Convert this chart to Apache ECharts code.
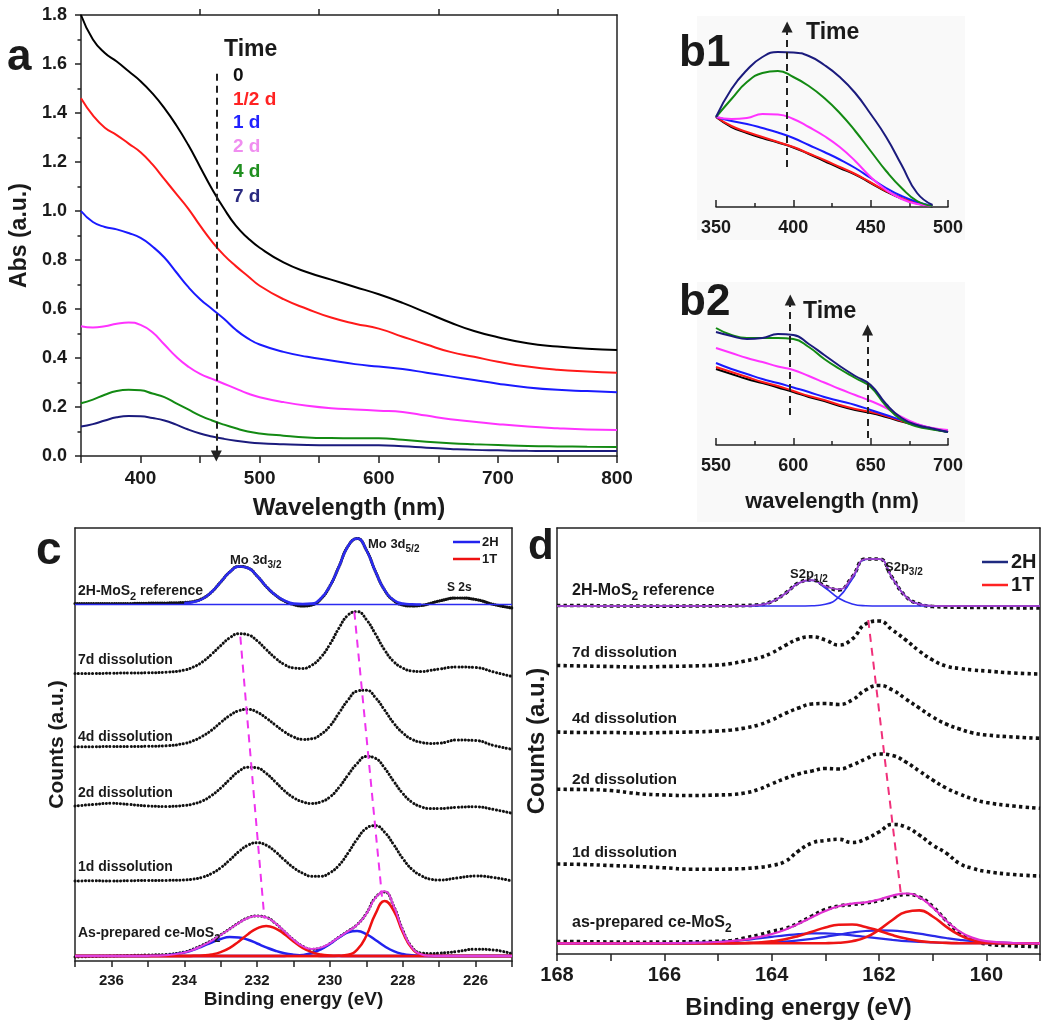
<!DOCTYPE html>
<html><head><meta charset="utf-8"><title>MoS2 dissolution</title>
<script src="https://cdn.jsdelivr.net/npm/echarts@6.0.0/dist/echarts.min.js"></script>
<style>html,body{margin:0;padding:0;background:#fff;}#chart{width:1050px;height:1022px;}</style>
</head><body><div id="chart"></div>
<script>
// ================= DATA =================
// ---- Panel a : UV-vis absorbance ----
const WL_A = [350,360,370,380,390,400,410,420,430,440,450,460,470,480,490,500,520,540,560,580,600,620,640,660,680,700,725,750,775,800];
const A_0    = [1.80,1.70,1.645,1.61,1.57,1.53,1.48,1.42,1.35,1.27,1.18,1.09,1.01,0.94,0.89,0.85,0.79,0.75,0.72,0.69,0.66,0.625,0.585,0.545,0.51,0.485,0.46,0.447,0.438,0.433];
const A_HALF = [1.46,1.39,1.34,1.31,1.275,1.24,1.19,1.13,1.07,1.01,0.94,0.875,0.82,0.775,0.735,0.695,0.64,0.60,0.565,0.54,0.52,0.487,0.455,0.425,0.405,0.385,0.365,0.352,0.345,0.34];
const A_1D   = [1.00,0.955,0.935,0.925,0.91,0.89,0.855,0.81,0.75,0.69,0.64,0.60,0.56,0.515,0.48,0.455,0.425,0.405,0.39,0.375,0.365,0.355,0.34,0.325,0.31,0.295,0.28,0.27,0.265,0.26];
const A_2D   = [0.53,0.525,0.53,0.54,0.545,0.535,0.505,0.455,0.405,0.365,0.335,0.315,0.295,0.275,0.255,0.24,0.22,0.205,0.195,0.19,0.185,0.18,0.165,0.15,0.14,0.13,0.12,0.113,0.108,0.106];
const A_4D   = [0.215,0.23,0.25,0.265,0.27,0.268,0.255,0.24,0.215,0.19,0.165,0.145,0.128,0.113,0.10,0.092,0.083,0.076,0.073,0.072,0.072,0.066,0.058,0.052,0.048,0.045,0.041,0.039,0.038,0.037];
const A_7D   = [0.12,0.13,0.145,0.158,0.163,0.162,0.155,0.145,0.128,0.108,0.092,0.08,0.07,0.062,0.056,0.052,0.048,0.045,0.044,0.044,0.044,0.04,0.034,0.029,0.025,0.023,0.021,0.02,0.02,0.02];
const A_ARROW_X = [463.6, 463.6];
const A_ARROW_Y = [1.56, 0.0];
const TIME_LABELS = ['0','1/2 d','1 d','2 d','4 d','7 d'];

// ---- Panel b1 : 350-500 nm (difference region) ----
const WL_B1 = [350,360,370,380,390,400,410,420,430,440,450,460,470,480,490];
const B1_0    = [0.90,0.80,0.74,0.69,0.645,0.595,0.53,0.46,0.39,0.325,0.24,0.155,0.085,0.035,0.005];
const B1_HALF = [0.90,0.81,0.75,0.70,0.65,0.60,0.535,0.47,0.40,0.33,0.245,0.16,0.09,0.04,0.01];
const B1_1D   = [0.90,0.86,0.83,0.79,0.745,0.69,0.62,0.55,0.475,0.39,0.29,0.19,0.11,0.05,0.01];
const B1_2D   = [0.90,0.88,0.89,0.93,0.925,0.88,0.80,0.71,0.60,0.46,0.30,0.17,0.08,0.03,0.01];
const B1_4D   = [0.90,1.08,1.25,1.34,1.36,1.30,1.21,1.09,0.94,0.76,0.56,0.36,0.19,0.06,0.01];
const B1_7D   = [0.90,1.18,1.37,1.50,1.55,1.545,1.51,1.42,1.30,1.14,0.93,0.70,0.42,0.14,0.02];
const B1_ARROW_X = [396, 396];
const B1_ARROW_Y = [0.40, 1.80];

// ---- Panel b2 : 550-700 nm ----
const WL_B2 = [550,560,570,580,590,600,610,620,630,640,650,660,670,680,690,700];
const B2_0    = [0.76,0.71,0.66,0.62,0.575,0.53,0.48,0.44,0.39,0.35,0.32,0.28,0.235,0.195,0.16,0.13];
const B2_HALF = [0.78,0.73,0.68,0.63,0.59,0.54,0.49,0.45,0.40,0.36,0.33,0.29,0.24,0.20,0.165,0.14];
const B2_1D   = [0.82,0.76,0.71,0.66,0.62,0.575,0.53,0.48,0.44,0.40,0.35,0.30,0.25,0.205,0.165,0.13];
const B2_2D   = [0.97,0.92,0.87,0.83,0.785,0.75,0.69,0.625,0.56,0.50,0.44,0.37,0.28,0.21,0.17,0.15];
const B2_4D   = [1.17,1.10,1.07,1.07,1.07,1.06,0.98,0.86,0.76,0.67,0.58,0.39,0.25,0.185,0.155,0.13];
const B2_7D   = [1.13,1.09,1.06,1.07,1.11,1.10,1.01,0.90,0.79,0.69,0.60,0.41,0.27,0.20,0.165,0.13];
const B2_ARROW1_X = [598, 598], B2_ARROW1_Y = [0.30, 1.45];
const B2_ARROW2_X = [648, 648], B2_ARROW2_Y = [0.07, 1.15];

// ---- Panel c : Mo 3d XPS (stacked, arbitrary offsets) ----
const E_C = [237,236.5,236,235.5,235,234.5,234,233.75,233.5,233.25,233,232.75,232.5,232.25,232,231.75,231.5,231.25,231,230.75,230.5,230.25,230,229.75,229.5,229.25,229,228.75,228.5,228.25,228,227.75,227.5,227.25,227,226.5,226,225.5,225];
const C_REF = [3.575,3.575,3.575,3.575,3.578,3.58,3.585,3.595,3.625,3.69,3.79,3.89,3.945,3.93,3.85,3.745,3.66,3.60,3.565,3.55,3.56,3.62,3.75,3.945,4.15,4.225,4.11,3.895,3.71,3.605,3.56,3.55,3.555,3.575,3.60,3.63,3.615,3.565,3.53];
const E_C_FIT = [234,233.75,233.5,233.25,233,232.75,232.5,232.25,232,231.75,231.5,231.25,231,230.75,230.5,230.25,230,229.75,229.5,229.25,229,228.75,228.5,228.25,228,227.75,227.5];
const C_REF_FIT = [3.58,3.59,3.62,3.69,3.79,3.89,3.945,3.93,3.85,3.745,3.66,3.605,3.575,3.57,3.575,3.625,3.75,3.945,4.15,4.225,4.11,3.895,3.71,3.61,3.575,3.567,3.565];
const E_C_BASE = [237, 225];
const C_REF_BASE = [3.565, 3.565];
const C_7D = [2.875,2.875,2.878,2.88,2.882,2.888,2.909,2.94,2.991,3.067,3.154,3.232,3.273,3.262,3.203,3.115,3.03,2.965,2.931,2.926,2.957,3.037,3.167,3.33,3.46,3.494,3.415,3.27,3.111,2.995,2.93,2.90,2.895,2.905,2.92,2.94,2.935,2.89,2.845];
const C_4D = [2.143,2.143,2.145,2.145,2.147,2.152,2.175,2.203,2.248,2.308,2.385,2.455,2.503,2.516,2.489,2.43,2.36,2.292,2.241,2.216,2.222,2.266,2.35,2.48,2.611,2.699,2.708,2.634,2.51,2.38,2.281,2.217,2.187,2.176,2.178,2.21,2.205,2.155,2.117];
const C_2D = [1.55,1.565,1.577,1.565,1.55,1.546,1.555,1.571,1.601,1.655,1.729,1.817,1.897,1.938,1.931,1.876,1.792,1.703,1.634,1.592,1.575,1.591,1.64,1.736,1.861,1.976,2.045,2.027,1.93,1.798,1.676,1.589,1.543,1.525,1.525,1.537,1.542,1.515,1.477];
const C_1D = [0.80,0.802,0.80,0.803,0.805,0.806,0.81,0.819,0.838,0.875,0.932,1.01,1.094,1.158,1.183,1.158,1.094,1.01,0.934,0.879,0.848,0.848,0.882,0.958,1.081,1.22,1.327,1.353,1.289,1.164,1.026,0.918,0.855,0.819,0.81,0.83,0.85,0.835,0.80];
const C_ASP = [0.04,0.045,0.05,0.055,0.06,0.066,0.09,0.12,0.16,0.205,0.262,0.322,0.383,0.432,0.45,0.437,0.378,0.295,0.212,0.148,0.118,0.13,0.175,0.24,0.30,0.365,0.475,0.635,0.69,0.55,0.31,0.14,0.08,0.075,0.078,0.095,0.118,0.11,0.072];
const C_ENV = [0.05,0.05,0.05,0.05,0.051,0.058,0.084,0.113,0.153,0.201,0.259,0.32,0.381,0.43,0.451,0.436,0.379,0.297,0.213,0.148,0.121,0.134,0.177,0.239,0.298,0.362,0.471,0.631,0.697,0.551,0.307,0.135,0.068,0.052,0.05,0.05,0.05,0.05,0.05];
const C_2H_A = [0.05,0.05,0.05,0.05,0.051,0.058,0.084,0.111,0.147,0.185,0.22,0.239,0.235,0.212,0.175,0.136,0.103,0.078,0.063,0.056,0.052,0.051,0.05,0.05,0.05,0.05,0.05,0.05,0.05,0.05,0.05,0.05,0.05,0.05,0.05,0.05,0.05,0.05,0.05];
const C_1T_A = [0.05,0.05,0.05,0.05,0.05,0.05,0.05,0.052,0.056,0.066,0.089,0.131,0.196,0.268,0.326,0.35,0.326,0.268,0.196,0.131,0.089,0.066,0.056,0.052,0.05,0.05,0.05,0.05,0.05,0.05,0.05,0.05,0.05,0.05,0.05,0.05,0.05,0.05,0.05];
const C_2H_B = [0.05,0.05,0.05,0.05,0.05,0.05,0.05,0.05,0.05,0.05,0.05,0.05,0.05,0.05,0.05,0.05,0.05,0.051,0.054,0.061,0.08,0.117,0.171,0.235,0.286,0.299,0.269,0.21,0.148,0.098,0.07,0.057,0.052,0.05,0.05,0.05,0.05,0.05,0.05];
const C_1T_B = [0.05,0.05,0.05,0.05,0.05,0.05,0.05,0.05,0.05,0.05,0.05,0.05,0.05,0.05,0.05,0.05,0.05,0.05,0.05,0.05,0.05,0.05,0.05,0.052,0.062,0.113,0.252,0.471,0.599,0.503,0.287,0.128,0.066,0.052,0.05,0.05,0.05,0.05,0.05];
const C_ASP_BASE = [0.05, 0.05];
const C_SHIFT1_E = [232.46, 231.8], C_SHIFT1_Y = [3.243, 0.427];
const C_SHIFT2_E = [229.33, 228.57], C_SHIFT2_Y = [3.493, 0.643];

// ---- Panel d : S 2p XPS ----
const E_D = [168,167.5,167,166.5,166,165.5,165,164.75,164.5,164.25,164,163.75,163.5,163.25,163,162.75,162.5,162.25,162,161.75,161.5,161.25,161,160.75,160.5,160.25,160,159.5,159];
const D_REF = [3.485,3.485,3.48,3.48,3.478,3.48,3.482,3.483,3.485,3.492,3.525,3.605,3.71,3.74,3.68,3.64,3.77,3.95,3.95,3.76,3.575,3.50,3.475,3.47,3.468,3.465,3.465,3.462,3.46];
const D_REF_2H_A = [3.48,3.48,3.48,3.48,3.48,3.48,3.48,3.48,3.481,3.489,3.522,3.603,3.707,3.736,3.66,3.558,3.501,3.483,3.48,3.48,3.48,3.48,3.48,3.48,3.48,3.48,3.48,3.48,3.48];
const D_REF_2H_B = [3.48,3.48,3.48,3.48,3.48,3.48,3.48,3.48,3.48,3.48,3.48,3.48,3.48,3.482,3.497,3.569,3.748,3.945,3.95,3.758,3.575,3.499,3.482,3.48,3.48,3.48,3.48,3.48,3.48];
const D_REF_ENV = [3.48,3.48,3.48,3.48,3.48,3.48,3.48,3.48,3.481,3.489,3.522,3.603,3.707,3.738,3.677,3.647,3.769,3.948,3.95,3.758,3.575,3.499,3.482,3.48,3.48,3.48,3.48,3.48,3.48];
const D_7D = [2.885,2.88,2.875,2.87,2.875,2.88,2.89,2.905,2.93,2.96,3.01,3.085,3.15,3.172,3.14,3.09,3.15,3.30,3.33,3.24,3.14,3.03,2.94,2.88,2.855,2.84,2.83,2.81,2.80];
const D_4D = [2.22,2.215,2.215,2.21,2.215,2.22,2.23,2.24,2.26,2.29,2.34,2.405,2.46,2.50,2.505,2.495,2.54,2.64,2.685,2.64,2.55,2.46,2.37,2.30,2.25,2.21,2.19,2.17,2.157];
const D_2D = [1.647,1.645,1.635,1.605,1.59,1.585,1.59,1.595,1.61,1.645,1.70,1.755,1.80,1.83,1.855,1.85,1.89,1.95,2.0,1.985,1.92,1.83,1.74,1.66,1.60,1.55,1.515,1.48,1.457];
const D_1D = [0.90,0.895,0.885,0.875,0.862,0.848,0.848,0.85,0.855,0.865,0.885,0.925,1.03,1.11,1.135,1.147,1.115,1.15,1.22,1.295,1.27,1.19,1.09,1.01,0.905,0.855,0.825,0.795,0.78];
const D_ASP = [0.125,0.123,0.12,0.118,0.12,0.122,0.127,0.135,0.16,0.19,0.225,0.255,0.31,0.38,0.445,0.48,0.495,0.51,0.535,0.57,0.595,0.57,0.475,0.335,0.215,0.14,0.10,0.082,0.073];
const D_ENV = [0.107,0.107,0.107,0.107,0.108,0.111,0.12,0.13,0.145,0.169,0.199,0.243,0.302,0.367,0.43,0.477,0.504,0.517,0.545,0.584,0.605,0.568,0.467,0.335,0.227,0.161,0.129,0.11,0.107];
const D_1T_A = [0.107,0.107,0.107,0.107,0.107,0.107,0.107,0.107,0.107,0.107,0.107,0.107,0.107,0.107,0.108,0.113,0.128,0.166,0.242,0.34,0.421,0.436,0.375,0.274,0.189,0.139,0.116,0.107,0.107];
const D_1T_B = [0.107,0.107,0.107,0.107,0.107,0.107,0.107,0.108,0.11,0.115,0.126,0.147,0.181,0.223,0.265,0.292,0.295,0.271,0.232,0.189,0.154,0.129,0.117,0.111,0.108,0.107,0.107,0.107,0.107];
const D_2H_A = [0.107,0.107,0.107,0.107,0.107,0.107,0.107,0.107,0.109,0.112,0.116,0.124,0.136,0.152,0.172,0.194,0.215,0.23,0.236,0.234,0.222,0.203,0.181,0.16,0.142,0.128,0.12,0.11,0.107];
const D_2H_B = [0.107,0.107,0.107,0.107,0.108,0.111,0.12,0.129,0.14,0.156,0.171,0.186,0.199,0.206,0.206,0.199,0.187,0.171,0.156,0.142,0.129,0.121,0.115,0.111,0.109,0.108,0.107,0.107,0.107];
const D_SHIFT_E = [162.2, 161.59], D_SHIFT_Y = [3.34, 0.59];

// ================= STYLE / BUILD =================
const FF = '"Liberation Sans", Arial, Helvetica, sans-serif';
const LINE_COLORS = ['#000000','#ff1a1a','#1a1aff','#ff33ff','#138a13','#1b1b7d'];
const LEGEND_COLORS = ['#111111','#ff2222','#2222ff','#f08ef0','#1f8f1f','#2a2a80'];
const zip = (xs, ys) => xs.map((x, i) => [x, ys[i]]);

const series = [];
function addLine(ax, xs, ys, color, width, extra) {
  const s = {type:'line', xAxisIndex:ax, yAxisIndex:ax, data:zip(xs, ys), symbol:'none', showSymbol:false,
    smooth:true, silent:true, animation:false, lineStyle:{color:color, width:width}, z:2};
  series.push(Object.assign(s, extra || {}));
  return s;
}
function dashML(pairs, color, width, dash, symbols) {
  return {silent:true, animation:false, symbol:symbols || ['none','none'], symbolSize:11, label:{show:false},
    emphasis:{disabled:true}, lineStyle:{color:color, width:width, type:dash},
    data: pairs.map(p => [{coord:[p[0][0], p[1][0]]}, {coord:[p[0][1], p[1][1]]}])};
}
const dotC = {color:'#111', width:3, type:[0.1, 3.4], cap:'round'};
const dotCref = {color:'#111', width:3.2, type:[0.1, 2.2], cap:'round'};
const dotD = {color:'#111', width:3.6, type:[3.4, 3.2], cap:'butt'};

// panel a
[A_0, A_HALF, A_1D, A_2D, A_4D, A_7D].forEach((ys, i) => {
  const s = addLine(0, WL_A, ys, LINE_COLORS[i], 2);
  if (i === 0) s.markLine = dashML([[A_ARROW_X, A_ARROW_Y]], '#222', 2, [7,5], ['none','triangle']);
});
// panel b1
[B1_0, B1_HALF, B1_1D, B1_2D, B1_4D, B1_7D].forEach((ys, i) => {
  const s = addLine(2, WL_B1, ys, LINE_COLORS[i], 2);
  if (i === 0) s.markLine = dashML([[B1_ARROW_X, B1_ARROW_Y]], '#222', 2, [7,5], ['none','triangle']);
});
// panel b2
[B2_0, B2_HALF, B2_1D, B2_2D, B2_4D, B2_7D].forEach((ys, i) => {
  const s = addLine(3, WL_B2, ys, LINE_COLORS[i], 2);
  if (i === 0) s.markLine = dashML([[B2_ARROW1_X, B2_ARROW1_Y],[B2_ARROW2_X, B2_ARROW2_Y]], '#222', 2, [7,5], ['none','triangle']);
});
// panel c
addLine(4, E_C, C_REF, '#111', 3, {lineStyle:dotCref});
addLine(4, E_C_BASE, C_REF_BASE, '#2b2bf0', 1.5, {smooth:false});
addLine(4, E_C_FIT, C_REF_FIT, '#2b2bf0', 2.5, {z:3});
[C_7D, C_4D, C_2D, C_1D, C_ASP].forEach(ys => addLine(4, E_C, ys, '#111', 3, {lineStyle:dotC}));
addLine(4, E_C_BASE, C_ASP_BASE, '#ee1111', 2.5, {smooth:false, z:3});
addLine(4, E_C, C_2H_A, '#2222ee', 2.5, {z:3});
addLine(4, E_C, C_2H_B, '#2222ee', 2.5, {z:3});
addLine(4, E_C, C_1T_A, '#ee1111', 2.5, {z:3});
addLine(4, E_C, C_1T_B, '#ee1111', 2.5, {z:3});
const cEnv = addLine(4, E_C, C_ENV, '#e040e0', 2, {z:4});
cEnv.markLine = dashML([[C_SHIFT1_E, C_SHIFT1_Y],[C_SHIFT2_E, C_SHIFT2_Y]], '#ee33ee', 2, [8,6]);
// panel d
addLine(6, E_D, D_REF, '#111', 3.6, {lineStyle:dotD});
[D_7D, D_4D, D_2D, D_1D, D_ASP].forEach(ys => addLine(6, E_D, ys, '#111', 3.6, {lineStyle:dotD}));
addLine(6, E_D, D_REF_2H_A, '#3030f0', 1.6, {z:3});
addLine(6, E_D, D_REF_2H_B, '#3030f0', 1.6, {z:3});
addLine(6, E_D, D_REF_ENV, '#9a3fc8', 1.8, {z:4});
addLine(6, E_D, D_2H_A, '#2a2ae8', 2.2, {z:3});
addLine(6, E_D, D_2H_B, '#2a2ae8', 2.2, {z:3});
addLine(6, E_D, D_1T_A, '#ee1515', 2.6, {z:3});
addLine(6, E_D, D_1T_B, '#ee1515', 2.6, {z:3});
const dEnv = addLine(6, E_D, D_ENV, '#e030d0', 2.2, {z:4});
dEnv.markLine = dashML([[D_SHIFT_E, D_SHIFT_Y]], '#f0307a', 2, [8,6]);

// ---- axes ----
const AL = {show:true, onZero:false, lineStyle:{color:'#222', width:1.5}};
const lab = (size, margin, fmt) => ({show:true, color:'#1a1a1a', fontFamily:FF, fontWeight:'bold', fontSize:size, margin:margin, formatter:fmt});
const nameStyle = size => ({color:'#1a1a1a', fontFamily:FF, fontWeight:'bold', fontSize:size});
const frame = (gi, pos) => ({gridIndex:gi, type:'value', position:pos, min:0, max:1, axisLine:AL, axisTick:{show:false}, axisLabel:{show:false}, splitLine:{show:false}});
const even = v => (Math.round(v) % 2 === 0 ? String(Math.round(v)) : '');

const xAxis = [
  {gridIndex:0, type:'value', min:350, max:800, interval:50, axisLine:AL,
   axisTick:{show:true, length:7, lineStyle:{width:1.5, color:'#222'}},
   axisLabel:lab(19, 13, v => (v % 100 === 0 && v >= 400) ? String(v) : ''), splitLine:{show:false},
   name:'Wavelength (nm)', nameLocation:'middle', nameGap:40, nameTextStyle:nameStyle(24)},
  {gridIndex:0, type:'value', position:'top', min:350, max:800, axisLine:AL,
   axisTick:{show:true, length:6, customValues:[450,550,650,750], lineStyle:{width:1.5, color:'#222'}},
   axisLabel:{show:false}, splitLine:{show:false}},
  {gridIndex:1, type:'value', min:350, max:500, interval:50, axisLine:AL,
   axisTick:{show:true, inside:true, length:7, lineStyle:{width:1.5, color:'#222'}},
   minorTick:{show:true, splitNumber:2, length:4, lineStyle:{width:1.5, color:'#222'}},
   axisLabel:lab(18, 12), splitLine:{show:false}},
  {gridIndex:2, type:'value', min:550, max:700, interval:50, axisLine:AL,
   axisTick:{show:true, inside:true, length:7, lineStyle:{width:1.5, color:'#222'}},
   minorTick:{show:true, splitNumber:2, length:4, lineStyle:{width:1.5, color:'#222'}},
   axisLabel:lab(18, 12), splitLine:{show:false},
   name:'wavelength (nm)', nameLocation:'middle', nameGap:46, nameTextStyle:nameStyle(22)},
  {gridIndex:3, type:'value', min:225, max:237, interval:1, inverse:true, axisLine:AL,
   axisTick:{show:true, length:6, lineStyle:{width:1.5, color:'#222'}},
   axisLabel:lab(15, 12, even), splitLine:{show:false},
   name:'Binding energy (eV)', nameLocation:'middle', nameGap:29, nameTextStyle:nameStyle(19)},
  frame(3, 'top'),
  {gridIndex:4, type:'value', min:159, max:168, interval:1, inverse:true, axisLine:AL,
   axisTick:{show:true, length:7, lineStyle:{width:1.5, color:'#222'}},
   axisLabel:lab(20, 11, even), splitLine:{show:false},
   name:'Binding energy (eV)', nameLocation:'middle', nameGap:42, nameTextStyle:nameStyle(24)},
  frame(4, 'top')
];
const yAxis = [
  {gridIndex:0, type:'value', min:0, max:1.8, interval:0.2, axisLine:AL,
   axisTick:{show:true, length:6, lineStyle:{width:1.5, color:'#222'}},
   minorTick:{show:true, splitNumber:2, length:3.5, lineStyle:{width:1.5, color:'#222'}},
   axisLabel:lab(18, 14, v => v.toFixed(1)), splitLine:{show:false},
   name:'Abs (a.u.)', nameLocation:'middle', nameGap:48, nameTextStyle:nameStyle(23)},
  frame(0, 'right'),
  {gridIndex:1, type:'value', min:0, max:1.9, show:false},
  {gridIndex:2, type:'value', min:0, max:1.65, show:false},
  {gridIndex:3, type:'value', min:0, max:4.33, axisLine:AL, axisTick:{show:false}, axisLabel:{show:false}, splitLine:{show:false},
   name:'Counts (a.u.)', nameLocation:'middle', nameGap:7, nameTextStyle:nameStyle(21)},
  frame(3, 'right'),
  {gridIndex:4, type:'value', min:0, max:4.26, axisLine:AL, axisTick:{show:false}, axisLabel:{show:false}, splitLine:{show:false},
   name:'Counts (a.u.)', nameLocation:'middle', nameGap:8, nameTextStyle:nameStyle(24)},
  frame(4, 'right')
];
const grid = [
  {left:81, top:15, width:536, height:441},
  {left:716, top:17, width:232, height:190},
  {left:716, top:280, width:232, height:165},
  {left:75, top:528, width:437, height:433},
  {left:557, top:528, width:483, height:426}
];

// ---- annotations ----
function txt(x, y, text, size, color) {
  return {type:'text', x:x, y:y, silent:true, z:100,
    style:{text:text, fill:color || '#1a1a1a', font:'bold ' + size + 'px ' + FF,
      align:'left', verticalAlign:'middle', textAlign:'left', textVerticalAlign:'middle'}};
}
function subTxt(x, y, main, sub, tail, size, subSize) {
  const base = {fontSize:size, fontWeight:'bold', fontFamily:FF, fill:'#1a1a1a'};
  const s = {fontSize:subSize, fontWeight:'bold', fontFamily:FF, fill:'#1a1a1a', padding:[Math.round(size * 0.75), 0, 0, 0]};
  return {type:'text', x:x, y:y, silent:true, z:100,
    style:{text:'{m|' + main + '}{s|' + sub + '}' + (tail ? '{m|' + tail + '}' : ''), rich:{m:base, s:s},
      align:'left', verticalAlign:'middle', textAlign:'left', textVerticalAlign:'middle'}};
}
function seg(x1, y1, x2, y2, color, w) {
  return {type:'line', silent:true, z:100, shape:{x1:x1, y1:y1, x2:x2, y2:y2}, style:{stroke:color, lineWidth:w}};
}
const graphic = [
  {type:'rect', z:-10, silent:true, shape:{x:697, y:16, width:268, height:224}, style:{fill:'#f9f9f9'}},
  {type:'rect', z:-10, silent:true, shape:{x:697, y:282, width:268, height:240}, style:{fill:'#f9f9f9'}},
  txt(7, 58, 'a', 44), txt(679, 54, 'b1', 44), txt(679, 303, 'b2', 44),
  txt(36, 551, 'c', 46), txt(528, 547, 'd', 42),
  txt(224, 50, 'Time', 23),
  txt(806, 33, 'Time', 23), txt(803, 312, 'Time', 23)
];
const LEG_Y = [76, 100, 123, 147, 172, 197];
TIME_LABELS.forEach((t, i) => graphic.push(txt(233, LEG_Y[i], t, 19, LEGEND_COLORS[i])));
// panel c labels
graphic.push(subTxt(230, 560, 'Mo 3d', '3/2', '', 13, 10));
graphic.push(subTxt(368, 544, 'Mo 3d', '5/2', '', 13, 10));
graphic.push(txt(447, 588, 'S 2s', 12));
graphic.push(subTxt(78, 591, '2H-MoS', '2', ' reference', 14, 11));
graphic.push(txt(78, 660, '7d dissolution', 14), txt(78, 737, '4d dissolution', 14),
             txt(78, 793, '2d dissolution', 14), txt(78, 867, '1d dissolution', 14));
graphic.push(subTxt(78, 933, 'As-prepared ce-MoS', '2', '', 14, 11));
graphic.push(seg(453, 542, 480, 542, '#2222ee', 2.5), txt(482, 542, '2H', 13),
             seg(453, 559, 480, 559, '#ee1111', 2.5), txt(482, 559, '1T', 13));
// panel d labels
graphic.push(subTxt(790, 574, 'S2p', '1/2', '', 13, 10));
graphic.push(subTxt(885, 567, 'S2p', '3/2', '', 13, 10));
graphic.push(subTxt(572, 591, '2H-MoS', '2', ' reference', 16, 12));
graphic.push(txt(572, 653, '7d dissolution', 15.5), txt(572, 719, '4d dissolution', 15.5),
             txt(572, 780, '2d dissolution', 15.5), txt(572, 853, '1d dissolution', 15.5));
graphic.push(subTxt(572, 923, 'as-prepared ce-MoS', '2', '', 16, 12));
graphic.push(seg(982, 562, 1008, 562, '#1f2a80', 2.5), txt(1011, 562, '2H', 20),
             seg(982, 585, 1008, 585, '#ff2222', 2.5), txt(1011, 585, '1T', 20));

const chart = echarts.init(document.getElementById('chart'), null, {renderer:'canvas'});
chart.setOption({backgroundColor:'#ffffff', animation:false, textStyle:{fontFamily:FF},
  grid:grid, xAxis:xAxis, yAxis:yAxis, series:series, graphic:graphic});
</script>
</body></html>
